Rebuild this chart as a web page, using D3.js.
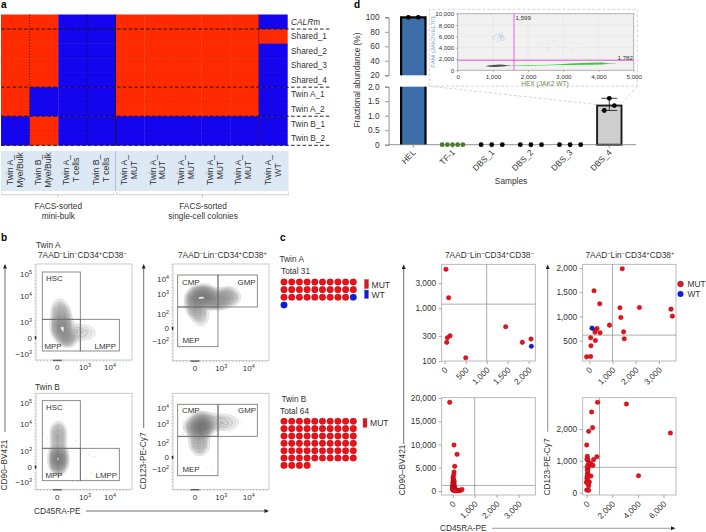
<!DOCTYPE html>
<html><head><meta charset="utf-8">
<script src="https://cdn.jsdelivr.net/npm/d3@7/dist/d3.min.js"></script>
<style>html,body{margin:0;background:#fff}svg{display:block}text{font-family:"Liberation Sans",Arial,sans-serif;fill:#333}</style>
</head><body><svg id="c" width="706" height="532"></svg>
<script>
// ---------- panel a ----------
const heatRows=["CALRm","Shared_1","Shared_2","Shared_3","Shared_4","Twin A_1","Twin A_2","Twin B_1","Twin B_2"];
const heatCols=[["Twin A_","Mye/Bulk"],["Twin B_","Mye/Bulk"],["Twin A_","T cells"],["Twin B_","T cells"],["Twin A_","MUT"],["Twin A_","MUT"],["Twin A_","MUT"],["Twin A_","MUT"],["Twin A_","MUT"],["Twin A_","WT"]];
const heatValues=[
[1,1,0,0,1,1,1,1,1,0],
[1,1,0,0,1,1,1,1,1,1],
[1,1,0,0,1,1,1,1,1,0],
[1,1,0,0,1,1,1,1,1,0],
[1,1,0,0,1,1,1,1,1,0],
[1,0,0,0,1,1,1,1,1,0],
[1,0,0,0,1,1,1,1,1,0],
[0,1,0,0,0,0,0,0,0,0],
[0,1,0,0,0,0,0,0,0,0]];
const heatDashAfter=["CALRm","Shared_4","Twin A_2","Twin B_2"];
// ---------- panel d ----------
const samples=["HEL","TF-1","DBS_1","DBS_2","DBS_3","DBS_4"];
const barHEL=100, barDBS4=1.35;
const helPoints=[100,100];
const tfPoints=[0,0,0,0,0];
const dbsZero=[0,0,0];
const dbs4Points=[1.6,1.35,1.18];
const dbs4Err=[1.18,1.6];
const upperTicks=[20,40,60,80,100];
const lowerTicks=[0,0.5,1,1.5,2];
const insetXTicks=[0,1000,2000,3000,4000,5000];
const insetYTicks=[0,2000,4000,6000,8000,10000];
const insetThreshX=1599, insetThreshY=1782;
const famCloud=[[1000,5800],[1030,5500],[1060,6100],[1100,6300],[1120,5600],[1150,5900],[1170,6500],[1180,5200],[1190,6000],[1210,5700],[1220,6400],[1230,5500],[1240,6100],[1250,5900],[1260,6600],[1270,5300],[1280,6200],[1290,5700],[1300,6000],[1180,6300],[1210,6100],[1240,5800],[1140,5100],[1330,5600]];
const orangeCloud=[[2320,4900],[2420,4600],[2540,3900],[2590,4100],[2600,4800],[2700,5300],[2790,5000],[2830,4300],[3100,4100],[3200,3700],[3250,3400],[3300,4900],[3480,4800],[3540,3200],[2550,3600]];
const grayBand=[[800,700,780],[900,620,900],[1000,600,950],[1100,600,980],[1200,620,1020],[1300,680,960],[1400,760,900],[1500,790,870],[1590,800,860]];
const greenBand=[[1610,780,860],[1800,800,900],[2000,820,920],[2300,850,950],[2600,880,980],[2900,920,1060],[3200,950,1180],[3500,980,1300],[3800,1000,1330],[4100,1020,1360],[4250,1130,1260],[4500,1250,1310]];
// ---------- panel b ----------
const flowLeftTicksY=[-1000,0,1000,10000,100000];
const flowRightTicksY=[-100,0,100,1000,10000];
const flowTicksX=[-1000,0,1000,10000];
const flowPanels=[
 {id:"A90",anchors:[[4,6500,1],[5,4000,2],[8,2600,3.6],[10,1700,4.5],[10,1000,4.4],[10,400,4.4],[10,100,4.4],[16,30,4.4],[30,0,4],[3,40,2.4],[60,-6,3],[150,30,2.4],[400,40,2.2],[1000,30,2.1],[1800,30,1.9]]},
 {id:"B90",anchors:[[2,8000,.45],[2,5000,.75],[2,2500,1],[2,1000,1],[2,300,1],[2,100,1],[2,25,1.1],[2,-4,1.1]]},
 {id:"A123",anchors:[[-5,600,3.5],[14,800,4.5],[60,800,4],[200,600,3],[600,500,2],[1200,650,1.5],[1750,800,2.6],[3000,700,1],[0,200,2],[10,100,1.5],[20,40,.8],[20,10,.4]]},
 {id:"B123",anchors:[[20,800,4],[10,400,4],[-10,800,2.5],[60,1000,2.8],[10,100,2.8],[15,30,1],[300,1200,1.6],[1000,1300,1.2],[2000,1300,1],[3500,1300,.6],[10,2500,1.5]]}
];
const flowSpecksB90=[[1200,-300],[1800,-50],[2500,200],[3500,-200],[1400,400],[900,-400],[700,900],[-200,3000],[200,2500],[-100,-700],[120,-800],[300,-850],[5000,-500]];
const flowSpecksB123=[[-400,1500],[-500,1000],[-300,600],[-450,300],[400,40],[-100,-30],[60,-60],[200,-50],[5000,1000],[6000,1500],[2000,400],[900,2500],[500,3000],[-200,3000]];
// ---------- panel c ----------
const totalA=[["MUT",29],["WT",2]]; // 31 cells
const totalB=[["MUT",64]];
const cA90X=[30,95,127,63,48,500,1452,1848,2055], cA90Y=[5500,1585,302,277,226,115,447,226,261];
const cA90WT=[[2063,190]];
const a90XTicks=[0,500,1000,1500,2000], a90YTicks=[100,300,1000,3000];
const cA123=[[1420,1984],[203,1530],[449,1261],[1319,1179],[2159,1186],[3522,1151],[3580,1007],[1362,980],[870,821],[1478,683],[1507,539],[333,752],[246,718],[246,677],[464,663],[58,560],[261,505],[72,395],[-116,167],[58,174]];
const cA123WT=[[116,759]];
const a123XTicks=[0,1000,2000,3000], a123YTicks=[500,1000,1500,2000];
const cB90=[[-136,19068],[60,9892],[197,7885],[91,5305],[61,4086],[45,3440],[15,2867],[40,2500],[20,2200],[70,2050],[5,1800],[50,1650],[15,1500],[60,1350],[30,1250],[-10,1100],[75,1000],[25,900],[55,800],[0,700],[85,650],[35,600],[10,500],[60,450],[110,400],[-15,350],[40,300],[85,260],[20,220],[140,180],[180,150],[60,120],[240,110],[300,130],[370,170],[420,330],[160,60],[100,40]];
const b90XTicks=[0,1000,2000,3000], b90YTicks=[0,5000,10000,15000,20000];
const cB123=[[846,2838],[3103,2785],[6538,1874],[4051,534],[385,2534],[462,2042],[154,1927],[0,1497],[795,1131],[50,1141],[100,1026],[25,1047],[538,1037],[308,921],[487,859],[154,817],[51,733],[77,607],[103,555],[333,523],[26,450],[205,335],[-26,325],[154,220],[0,84],[154,73],[120,900],[40,820],[90,680],[30,520],[60,400],[100,290]];
const b123XTicks=[0,2000,4000,6000], b123YTicks=[0,1000,2000];

const RED="#ff2a00", BLUE="#1405ee", PT="#e8111c", PTS="#8a0d12", GBLUE="#0a1fdc";
const svg=d3.select("#c");
function T(x,y,s,o={}){
  const t=svg.append("text").attr("x",x).attr("y",y).attr("font-size",o.fs||8.3).text(s);
  if(o.anchor)t.attr("text-anchor",o.anchor);
  if(o.bold)t.attr("font-weight","bold").style("fill","#000");
  if(o.fill)t.style("fill",o.fill);
  if(o.rot!==undefined)t.attr("transform",`rotate(${o.rot} ${x} ${y})`);
  return t;
}
function S(sel,parts,fs){
  parts.forEach(p=>{
    if(p[0]==="^"){sel.append("tspan").attr("dy",-fs*.38).attr("font-size",fs*.68).text(p.slice(1));
      sel.append("tspan").attr("dy",fs*.38).attr("font-size",1).text("\u200a");}
    else sel.append("tspan").attr("font-size",fs).text(p);
  });
  return sel;
}
T(1,8,"a",{bold:1,fs:10}); T(354,8,"d",{bold:1,fs:10}); T(1,241,"b",{bold:1,fs:10}); T(280,241,"c",{bold:1,fs:10});

// ===== a =====
{
 const x=d3.scaleBand().domain(d3.range(10)).range([1,287.4]);
 const y=d3.scaleBand().domain(heatRows).range([14.5,145.3]);
 const g=svg.append("g");
 heatValues.forEach((r,i)=>g.selectAll(null).data(r).join("rect")
   .attr("x",(d,j)=>x(j)).attr("y",y(heatRows[i])).attr("width",x.bandwidth()+.3).attr("height",y.bandwidth()+.3)
   .attr("fill",d=>d?RED:BLUE));
 g.selectAll("line.h").data(heatRows.slice(0,-1)).join("line").attr("x1",1).attr("x2",287).attr("y1",d=>y(d)+y.bandwidth()).attr("y2",d=>y(d)+y.bandwidth()).attr("stroke","#000").attr("stroke-opacity",.06);
 [[1,"1.2,1.6"],[3,"1.2,1.6"],[4,null],[9,null]].forEach(([c,dash])=>{
  const l=g.append("line").attr("x1",x(c)).attr("x2",x(c)).attr("y1",14.5).attr("y2",145.3).attr("stroke",c==9?"#4a1a10":"#111").attr("stroke-width",c==9?.5:.8);
  if(dash)l.attr("stroke-dasharray",dash);
 });
 heatDashAfter.forEach(r=>{const yy=y(r)+y.bandwidth();
  g.append("line").attr("x1",1).attr("x2",330).attr("y1",yy).attr("y2",yy).attr("stroke","#111").attr("stroke-width",.9).attr("stroke-dasharray","3.6,2.2");});
 heatRows.forEach(r=>{
  const t=T(291,y(r)+y.bandwidth()/2+3,"",{fs:8.3});
  if(r==="CALRm"){t.append("tspan").attr("font-style","italic").text("CALR");t.append("tspan").text("m");}else t.text(r);
 });
 svg.append("rect").attr("x",1).attr("y",151).attr("width",287.6).attr("height",40).attr("fill","#dce8f4");
 svg.append("line").attr("x1",115.5).attr("x2",115.5).attr("y1",151).attr("y2",191).attr("stroke","#8fb0d6").attr("stroke-width",.7);
 const nudges=[-1,-1,-4,-1,-1,-2,-2,-1,-3,1];
 heatCols.forEach((c,i)=>{const cx=x(i)+x.bandwidth()/2+nudges[i]/3*1;
  T(cx-2.2,170,c[0],{fs:8.6,anchor:"middle",rot:-90});
  T(cx+7.6,170,c[1],{fs:8.6,anchor:"middle",rot:-90});});
 const br=(a,b)=>{svg.append("path").attr("d",`M${a},192.5V194.7H${b}V192.5M${(a+b)/2},194.7V198`).attr("fill","none").attr("stroke","#bbb").attr("stroke-width",.7);};
 br(1.5,114);br(116.5,288.5);
 T(58.3,209,"FACS-sorted",{anchor:"middle"});T(58.3,219,"mini-bulk",{anchor:"middle"});
 T(203,209,"FACS-sorted",{anchor:"middle"});T(203,219,"single-cell colonies",{anchor:"middle"});
}

// ===== d =====
{
 const x=d3.scaleBand().domain(samples).range([393.7,628.9]);
 const yU=d3.scaleLinear().domain([20,100]).range([75.3,17.3]);
 const yL=d3.scaleLinear().domain([0,2]).range([144.7,86.7]);
 const cx=s=>x(s)+x.bandwidth()/2;
 const barW=24.4;
 const ax="#777";
 const hx=cx("HEL");
 svg.append("rect").attr("x",hx-barW/2).attr("y",yU(barHEL)).attr("width",barW).attr("height",yU(20)-yU(barHEL)).attr("fill","#3b6ea8");
 svg.append("rect").attr("x",hx-barW/2).attr("y",yL(2)).attr("width",barW).attr("height",yL(0)-yL(2)).attr("fill","#3b6ea8");
 svg.append("path").attr("d",`M${hx-barW/2},${yU(20)}V${yU(100)}H${hx+barW/2}V${yU(20)}M${hx-barW/2},${yL(2)}V${yL(0)}M${hx+barW/2},${yL(2)}V${yL(0)}`).attr("fill","none").attr("stroke","#050505").attr("stroke-width",2.2);
 const dx=cx("DBS_4");
 svg.append("rect").attr("x",dx-barW/2).attr("y",yL(barDBS4)).attr("width",barW).attr("height",yL(0)-yL(barDBS4)).attr("fill","#cecece").attr("stroke","#1c1c1c").attr("stroke-width",1.9);
 const aU=d3.axisLeft(yU).tickValues(upperTicks).tickSize(3.6).tickPadding(5.5);
 const aL=d3.axisLeft(yL).tickValues(lowerTicks).tickSize(3.6).tickPadding(5.5).tickFormat(d=>d===0?"0":d3.format(".1f")(d));
 [aU,aL].forEach(a=>{const g=svg.append("g").attr("transform","translate(388.6,0)").call(a);
  g.selectAll("path,line").attr("stroke",ax).attr("stroke-width",.8);g.selectAll("text").attr("font-size",8.3).style("font-family","'Liberation Sans'");});
 const xa=svg.append("g").attr("transform",`translate(0,144.7)`).call(d3.axisBottom(x).tickSize(3).tickFormat(""));
 xa.selectAll("line").attr("stroke",ax).attr("stroke-width",.8);
 xa.select("path").remove();
 svg.append("line").attr("x1",388.6).attr("x2",636).attr("y1",144.7).attr("y2",144.7).attr("stroke",ax).attr("stroke-width",.8);
 samples.forEach(s=>T(cx(s)+3,153,s,{anchor:"end",rot:-45,fs:8.3}));
 T(511,184,"Samples",{anchor:"middle"});
 T(360.2,80,"Fractional abundance (%)",{anchor:"middle",rot:-90});
 const dot=(px,py,f)=>svg.append("circle").attr("cx",px).attr("cy",py).attr("r",2.4).attr("fill",f||"#000");
 helPoints.forEach((v,i)=>dot(hx+(i-.5)*10,yU(v)));
 tfPoints.forEach((v,i)=>dot(cx("TF-1")+(i-2)*5.2,yL(v),"#4a7a28"));
 ["DBS_1","DBS_2","DBS_3"].forEach(s=>dbsZero.forEach((v,i)=>dot(cx(s)+(i-1)*10.6,yL(v))));
 svg.append("path").attr("d",`M${dx},${yL(dbs4Err[0])}V${yL(dbs4Err[1])}M${dx-8},${yL(dbs4Err[0])}H${dx+8}M${dx-8},${yL(dbs4Err[1])}H${dx+8}`).attr("stroke","#111").attr("fill","none").attr("stroke-width",.8);
 dot(dx,yL(dbs4Points[0]));dot(dx+5,yL(dbs4Points[1]));dot(dx-5,yL(dbs4Points[2]));
 svg.append("path").attr("d",`M429.3,86.2V9.3H637.3V86.2H429.3M429.3,86.2L597,104.5M637.3,86.2L621,104.5`)
   .attr("stroke","#c4c4c4").attr("stroke-width",.7).attr("stroke-dasharray","3,2").attr("fill","none");
 const ix=d3.scaleLinear().domain([0,5000]).range([457.7,633.7]);
 const iy=d3.scaleLinear().domain([0,10000]).range([70.3,13.7]);
 svg.append("rect").attr("x",457.7).attr("y",13.7).attr("width",176).attr("height",56.6).attr("fill","#f1f1f1").attr("stroke","#a8a8a8").attr("stroke-width",.9);
 const gx=svg.append("g").attr("transform","translate(0,70.3)").call(d3.axisBottom(ix).tickValues(insetXTicks).tickSize(2).tickPadding(2).tickFormat(d3.format(",")));
 const gy=svg.append("g").attr("transform","translate(457.7,0)").call(d3.axisLeft(iy).tickValues(insetYTicks).tickSize(2).tickPadding(1.5).tickFormat(d3.format(",")));
 [gx,gy].forEach(g=>{g.select("path").remove();g.selectAll("line").attr("stroke","#888").attr("stroke-width",.6);g.selectAll("text").attr("font-size",6.2).style("font-family","'Liberation Sans'");});
 insetXTicks.slice(1,-1).forEach(v=>svg.append("line").attr("x1",ix(v)).attr("x2",ix(v)).attr("y1",13.7).attr("y2",70.3).attr("stroke","#e2e2e2").attr("stroke-width",.5));
 insetYTicks.slice(1,-1).forEach(v=>svg.append("line").attr("y1",iy(v)).attr("y2",iy(v)).attr("x1",457.7).attr("x2",633.7).attr("stroke","#e2e2e2").attr("stroke-width",.5));
 const band=d3.area().x(d=>ix(d[0])).y0(d=>iy(d[1])).y1(d=>iy(d[2]));
 svg.append("path").attr("d",band(grayBand)).attr("fill","#555");
 svg.append("path").attr("d",band(greenBand)).attr("fill","#2fd02f");
 svg.selectAll(null).data(famCloud).join("circle").attr("cx",d=>ix(d[0])).attr("cy",d=>iy(d[1])).attr("r",.45).attr("fill","#5a9fd8");
 svg.selectAll(null).data(orangeCloud).join("circle").attr("cx",d=>ix(d[0])).attr("cy",d=>iy(d[1])).attr("r",.45).attr("fill","#dcb090");
 svg.append("line").attr("x1",ix(insetThreshX)).attr("x2",ix(insetThreshX)).attr("y1",13.7).attr("y2",70.3).attr("stroke","#ee4fe6").attr("stroke-width",.9);
 svg.append("line").attr("y1",iy(insetThreshY)).attr("y2",iy(insetThreshY)).attr("x1",457.7).attr("x2",633.7).attr("stroke","#e23ed0").attr("stroke-width",.9);
 T(ix(insetThreshX)+1.5,19.5,d3.format(",")(insetThreshX),{fs:6.2});
 T(617.5,59.5,d3.format(",")(insetThreshY),{fs:6.2});
 T(435,42,"FAM (JAK2V617F)",{fs:6.2,anchor:"middle",rot:-90,fill:"#6fa5d8"});
 T(545,85.5,"HEX (JAK2 WT)",{fs:6.6,anchor:"middle",fill:"#5f8f45"});
}

// ===== b =====
{
 const bi=v=>Math.sign(v)*Math.log10(1+Math.abs(v)/10);
 const cols={L:{x0:36,r:132,xr:[42,57.3,85,110]},R:{x0:173,r:269,xr:[180,195,221.3,248.7]}};
 const layouts=[
  {i:0,col:"L",top:264,bot:360,yr:[354.3,337.7,321.7,295.7,274],ticks:flowLeftTicksY,lab:["\u221210^3","0","10^3","10^4","10^5"],skip:1,
   gates:[[42.3,272,80.3,319.3],[42.3,319.3,80.3,351],[80.3,319.3,119.3,351]],names:[["HSC",46,281],["MPP",44.5,349],["LMPP",94.5,349]],bw:2.6},
  {i:1,col:"L",top:393.3,bot:489.3,yr:[482,467,451,424.3,402.7],ticks:flowLeftTicksY,lab:["\u221210^3","0","10^3","10^4","10^5"],skip:1,
   gates:[[42.3,400.7,80.3,448.3],[42.3,448.3,80.3,480.7],[80.3,448.3,119.3,480.7]],names:[["HSC",46,410],["MPP",45.5,478],["LMPP",95.5,478]],bw:1.8,specks:flowSpecksB90},
  {i:2,col:"R",top:264,bot:360.7,yr:[340.7,328.3,314.3,294.3,279.3],ticks:flowRightTicksY,lab:["\u221210^2","0","10^2","10^3","10^4"],skip:1,
   gates:[[177.7,275,218,307],[218,275,257.3,307],[177.7,307,218,346.7]],names:[["CMP",182,284.5],["GMP",237.5,284.5],["MEP",182.5,342.5]],bw:3},
  {i:3,col:"R",top:393.3,bot:489.3,yr:[469.3,457.3,443.3,424,407.7],ticks:flowRightTicksY,lab:["\u221210^2","0","10^2","10^3","10^4"],skip:1,
   gates:[[177.7,404.3,218,436.3],[218,404.3,257.3,436.3],[177.7,436.3,218,475.7]],names:[["CMP",182,413],["GMP",238,413],["MEP",182.5,471.5]],bw:3.2,specks:flowSpecksB123}
 ];
 layouts.forEach(p=>{
  const c=cols[p.col], w=c.r-c.x0, h=p.bot-p.top;
  const linX=d3.scaleLinear().domain(flowTicksX.map(bi)).range(c.xr);
  const linY=d3.scaleLinear().domain(p.ticks.map(bi)).range(p.yr);
  const sx=v=>linX(bi(v)), sy=v=>linY(bi(v));
  const id="clip"+p.i;
  svg.append("clipPath").attr("id",id).append("rect").attr("x",c.x0).attr("y",p.top).attr("width",w).attr("height",h);
  svg.append("rect").attr("x",c.x0).attr("y",p.top).attr("width",w).attr("height",h).attr("fill","#fff").attr("stroke","#bdbdbd").attr("stroke-width",.8);
  svg.append("path").attr("d",`M${c.x0-1},${p.top}V${p.bot+1}H${c.r}`).attr("fill","none").attr("stroke","#777").attr("stroke-width",.7).attr("stroke-dasharray","0.7,2.6");
  const g=svg.append("g").attr("clip-path",`url(#${id})`);
  if(p.specks)g.selectAll(null).data(p.specks).join("circle").attr("cx",d=>sx(d[0])).attr("cy",d=>sy(d[1])).attr("r",.35).attr("fill","#777");
  const dens=d3.contourDensity().x(d=>sx(d[0])-c.x0).y(d=>sy(d[1])-p.top).weight(d=>d[2]).size([w,h]).bandwidth(p.bw).thresholds(16);
  const cs=dens(flowPanels[p.i].anchors).slice(p.skip);
  const path=d3.geoPath();
  const inner=g.append("g").attr("transform",`translate(${c.x0},${p.top})`);
  cs.forEach((k,idx)=>{
   const last=idx===cs.length-1;
   inner.append("path").attr("d",path(k)).attr("fill",last?"#fff":"#555").attr("fill-opacity",last?1:.07).attr("stroke",idx<2?"#aaa":"#808080").attr("stroke-width",.35);
  });
  p.gates.forEach(q=>svg.append("rect").attr("x",q[0]).attr("y",q[1]).attr("width",q[2]-q[0]).attr("height",q[3]-q[1]).attr("fill","none").attr("stroke","#6e6e6e").attr("stroke-width",.8));
  p.names.forEach(n=>T(n[1],n[2],n[0],{fs:7.9}));
  p.ticks.forEach((t,k)=>{const parts=p.lab[k].split("^");
   const el=T(c.x0-4,sy(t)+2.8,"",{fs:8,anchor:"end"});
   if(parts.length>1){el.append("tspan").text(parts[0]);el.append("tspan").attr("dy",-2.8).attr("font-size",5.4).text(parts[1]);}else el.text(parts[0]);
  });
  flowTicksX.slice(1).forEach(t=>{const el=T(sx(t),p.bot+10.2,"",{fs:8,anchor:"middle"});
   if(t===0)el.text("0");else{el.append("tspan").text("10");el.append("tspan").attr("dy",-2.8).attr("font-size",5.4).text(t===1000?"3":"4");}
  });
  svg.append("rect").attr("x",sx(0)-4.5).attr("y",p.bot-.3).attr("width",9).attr("height",1.5).attr("fill","#333").attr("opacity",.7);
  svg.append("rect").attr("x",c.x0-1.2).attr("y",sy(0)-1.5).attr("width",1.5).attr("height",3).attr("fill","#222");
 });
 T(36,248,"Twin A",{fs:8.3});
 S(T(38,257.8,"",{fs:8.3}),["7AAD","^\u2212","Lin","^\u2212","CD34","^+","CD38","^\u2212"],8.3);
 S(T(178,257.8,"",{fs:8.3}),["7AAD","^\u2212","Lin","^\u2212","CD34","^+","CD38","^+"],8.3);
 T(35,389.5,"Twin B",{fs:8.3});
 const arrow=(d)=>svg.append("path").attr("d",d).attr("fill","#222").attr("stroke","none");
 svg.append("line").attr("x1",5).attr("x2",5).attr("y1",432).attr("y2",267).attr("stroke","#333").attr("stroke-width",.7);
 arrow("M5,264L3,268.5H7Z");
 svg.append("line").attr("x1",143.7).attr("x2",143.7).attr("y1",428).attr("y2",267).attr("stroke","#333").attr("stroke-width",.7);
 arrow("M143.7,264L141.7,268.5H145.7Z");
 T(7,465,"CD90\u2013BV421",{anchor:"middle",rot:-90});
 T(146.3,461,"CD123-PE-Cy7",{anchor:"middle",rot:-90});
 T(34,514,"CD45RA-PE");
 svg.append("line").attr("x1",86).attr("x2",266).attr("y1",511).attr("y2",511).attr("stroke","#333").attr("stroke-width",.7);
 arrow("M269,511L264.5,509V513Z");
}

// ===== c =====
{
 const waffle=(list,y0,dy)=>{
  const cells=list.flatMap(([k,n])=>d3.range(n).map(()=>k));
  const gx=d3.scaleLinear().domain([0,9]).range([284,353.3]);
  const gy=d3.scaleLinear().domain([0,1]).range([y0,y0+dy]);
  svg.selectAll(null).data(cells).join("circle").attr("cx",(d,i)=>gx(i%10)).attr("cy",(d,i)=>gy(Math.floor(i/10))).attr("r",3.3)
   .attr("fill",d=>d==="MUT"?"#ee1018":GBLUE).attr("stroke",d=>d==="MUT"?"#6b0d0d":"#223").attr("stroke-width",.25);
 };
 T(279.5,262,"Twin A"); T(281,274,"Total 31");
 waffle(totalA,282,7.65);
 T(281.5,402,"Twin B"); T(280,413.5,"Total 64");
 waffle(totalB,421.3,7.35);
 const sw=(x,y,c,h)=>svg.append("rect").attr("x",x).attr("y",y).attr("width",4).attr("height",h).attr("fill",c).attr("stroke","#777").attr("stroke-width",.5);
 sw(364.5,279.5,"#e8111c",9);T(371.5,287.5,"MUT",{fs:8.6});
 sw(364.5,290,GBLUE,8.5);T(371.5,297.5,"WT",{fs:8.6});
 sw(363,418.3,"#e8111c",9);T(370,426,"MUT",{fs:8.6});

 const LEFT=[441.7,535.3], RIGHT=[582.7,676], TOP=[264.3,361], BOT=[397.7,495];
 function scatter(o){
  const [x0,x1]=o.xp,[y0,y1]=o.yp;
  svg.append("rect").attr("x",x0).attr("y",y0).attr("width",x1-x0).attr("height",y1-y0).attr("fill","#fff").attr("stroke","#aaa").attr("stroke-width",.8);
  svg.append("line").attr("x1",o.x(o.vx)).attr("x2",o.x(o.vx)).attr("y1",y0).attr("y2",y1).attr("stroke","#8a8a8a").attr("stroke-width",.7);
  svg.append("line").attr("y1",o.y(o.hy)).attr("y2",o.y(o.hy)).attr("x1",x0).attr("x2",x1).attr("stroke","#8a8a8a").attr("stroke-width",.7);
  const gx=svg.append("g").attr("transform",`translate(0,${y1})`).call(d3.axisBottom(o.x).tickValues(o.xt).tickSize(3).tickFormat(d3.format(",")));
  const gy=svg.append("g").attr("transform",`translate(${x0},0)`).call(d3.axisLeft(o.y).tickValues(o.yt).tickSize(3).tickPadding(2.5).tickFormat(d3.format(",")));
  [gx,gy].forEach(g=>{g.select("path").remove();g.selectAll("line").attr("stroke","#888").attr("stroke-width",.7);g.selectAll("text").attr("font-size",8.3).style("font-family","'Liberation Sans'");});
  gx.selectAll("text").attr("text-anchor","end").attr("dy",0).attr("y",0).attr("x",0).attr("transform","translate(3,9.5) rotate(-45)");
  const dots=(pts,c,s)=>svg.selectAll(null).data(pts).join("circle").attr("cx",d=>o.x(d[0])).attr("cy",d=>o.y(d[1])).attr("r",2.3).attr("fill",c).attr("stroke",s).attr("stroke-width",.35);
  dots(o.pts,PT,PTS);
  if(o.wt)dots(o.wt,GBLUE,"#223");
 }
 scatter({xp:LEFT,yp:TOP,x:d3.scaleLinear().domain([0,1000]).range([444.7,486.7]),y:d3.scaleLog().domain([100,1000]).range([361,308.3]),
  vx:1000,hy:1200,xt:a90XTicks,yt:a90YTicks,pts:cA90X.map((v,i)=>[v,cA90Y[i]]),wt:cA90WT});
 scatter({xp:RIGHT,yp:TOP,x:d3.scaleLinear().domain([0,1000]).range([589.3,612.5]),y:d3.scaleLinear().domain([500,2000]).range([340.7,268]),
  vx:1000,hy:615,xt:a123XTicks,yt:a123YTicks,pts:cA123,wt:cA123WT});
 scatter({xp:LEFT,yp:BOT,x:d3.scaleLinear().domain([0,1000]).range([452.7,474.7]),y:d3.scaleLinear().domain([0,20000]).range([491,398]),
  vx:1000,hy:1200,xt:b90XTicks,yt:b90YTicks,pts:cB90});
 scatter({xp:RIGHT,yp:BOT,x:d3.scaleLinear().domain([0,2000]).range([586.7,612.3]),y:d3.scaleLinear().domain([0,2000]).range([492.7,429]),
  vx:1000,hy:796,xt:b123XTicks,yt:b123YTicks,pts:cB123});
 const arrow=(d)=>svg.append("path").attr("d",d).attr("fill","#222");
 svg.append("line").attr("x1",403.7).attr("x2",403.7).attr("y1",444).attr("y2",267).attr("stroke","#333").attr("stroke-width",.7);
 arrow("M403.7,264.5L401.7,269H405.7Z");
 T(404.5,470,"CD90\u2013BV421",{anchor:"middle",rot:-90});
 svg.append("line").attr("x1",547.7).attr("x2",547.7).attr("y1",431.7).attr("y2",267).attr("stroke","#9a9a9a").attr("stroke-width",1.1);
 arrow("M547.7,264.5L545.7,269H549.7Z");
 T(550,467,"CD123-PE-Cy7",{anchor:"middle",rot:-90});
 T(440,531,"CD45RA-PE");
 svg.append("line").attr("x1",492).attr("x2",672).attr("y1",528.3).attr("y2",528.3).attr("stroke","#9a9a9a").attr("stroke-width",1.1);
 arrow("M675.5,528.3L671,526.3V530.3Z");
 S(T(445,257.8,"",{fs:8.3}),["7AAD","^\u2212","Lin","^\u2212","CD34","^+","CD38","^\u2212"],8.3);
 S(T(585.5,257.8,"",{fs:8.3}),["7AAD","^\u2212","Lin","^\u2212","CD34","^+","CD38","^+"],8.3);
 svg.append("circle").attr("cx",680.5).attr("cy",284).attr("r",3).attr("fill",PT).attr("stroke","#2a4fa0").attr("stroke-width",.4);
 svg.append("circle").attr("cx",680.5).attr("cy",294).attr("r",3).attr("fill",GBLUE);
 T(687.5,287,"MUT",{fs:8.3});T(687.5,297,"WT",{fs:8.3});
}
</script></body></html>
